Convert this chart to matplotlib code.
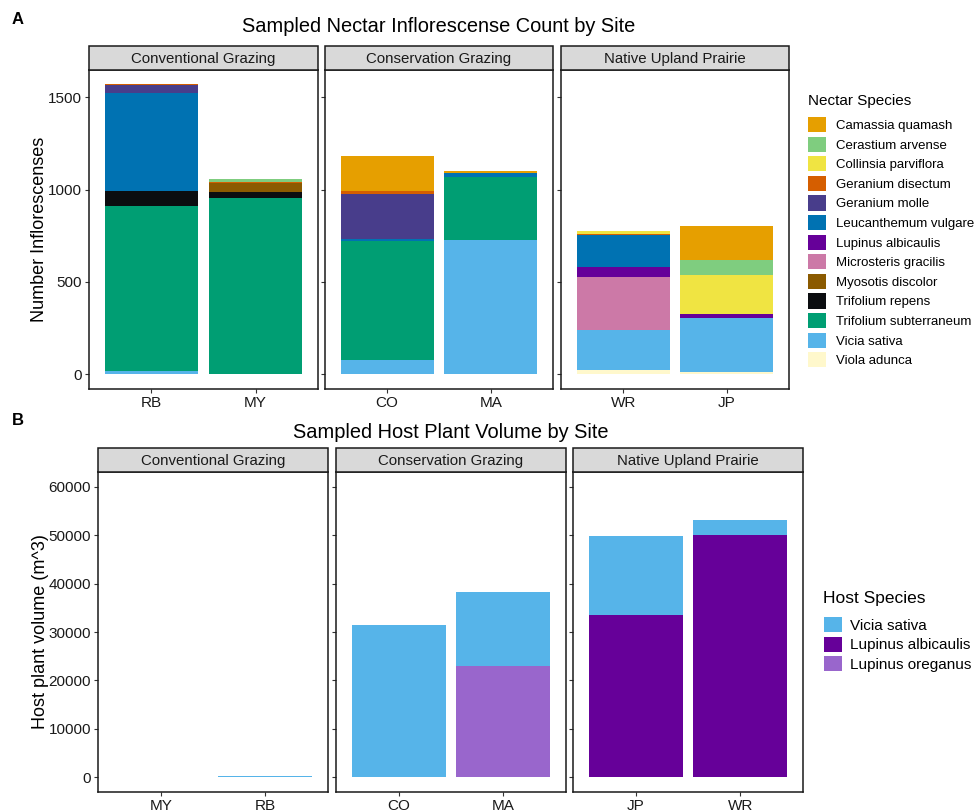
import matplotlib
matplotlib.use("Agg")
import matplotlib.pyplot as plt
from matplotlib.patches import Patch, Rectangle

plt.rcParams['font.family'] = ['Liberation Sans', 'DejaVu Sans']

W, H = 978, 811

# ---- nectar inflorescence counts (panel A) ----
nectar_species = ["Camassia quamash", "Cerastium arvense", "Collinsia parviflora",
                  "Geranium disectum", "Geranium molle", "Leucanthemum vulgare",
                  "Lupinus albicaulis", "Microsteris gracilis", "Myosotis discolor",
                  "Trifolium repens", "Trifolium subterraneum", "Vicia sativa",
                  "Viola adunca"]
nectar_colors = ["#E69F00", "#7FCD7F", "#F0E442", "#D55E00", "#483D8B", "#0072B2",
                 "#660099", "#CC79A7", "#8B5A00", "#0B0D10", "#009E73", "#56B4E9",
                 "#FFF8CC"]
sites_a = ["RB", "MY", "CO", "MA", "WR", "JP"]
# counts per site, in nectar_species order
rb_counts = [0, 0, 0, 4, 41, 530, 0, 0, 0, 83, 894, 18, 0]
my_counts = [0, 15, 0, 5, 0, 0, 0, 0, 47, 34, 954, 0, 0]
co_counts = [194, 0, 0, 11, 246, 9, 0, 0, 0, 0, 648, 76, 0]
ma_counts = [13, 0, 0, 0, 0, 20, 0, 0, 0, 0, 340, 729, 0]
wr_counts = [0, 0, 16, 8, 0, 169, 54, 291, 0, 0, 0, 216, 22]
jp_counts = [186, 83, 208, 0, 0, 0, 22, 0, 0, 0, 0, 292, 14]
nectar_counts = [rb_counts, my_counts, co_counts, ma_counts, wr_counts, jp_counts]

# ---- host plant volume (panel B) ----
host_species = ["Vicia sativa", "Lupinus albicaulis", "Lupinus oreganus"]
host_colors = ["#56B4E9", "#660099", "#9966CC"]
sites_b = ["MY", "RB", "CO", "MA", "JP", "WR"]
vicia_vol = [0, 250, 31500, 15300, 16350, 3000]
lup_alb_vol = [0, 0, 0, 0, 33450, 50000]
lup_ore_vol = [0, 0, 0, 23000, 0, 0]
host_volumes = [vicia_vol, lup_alb_vol, lup_ore_vol]

groups = ["Conventional Grazing", "Conservation Grazing", "Native Upland Prairie"]


def px_axes(fig, x0, y0, x1, y1):
    return fig.add_axes([x0 / W, 1 - y1 / H, (x1 - x0) / W, (y1 - y0) / H])


def style_panel(ax, strip, label):
    for s in ax.spines.values():
        s.set_color("#1a1a1a")
        s.set_linewidth(1.1)
    ax.tick_params(axis="both", colors="#333333", labelcolor="#1a1a1a",
                   length=3, width=0.8, labelsize=11, pad=2)
    pos = ax.get_position()
    fig = ax.figure
    fig.patches.append(Rectangle((pos.x0, pos.y1), pos.width, strip / H,
                                 transform=fig.transFigure, facecolor="#D9D9D9",
                                 edgecolor="#1a1a1a", linewidth=1.1))
    fig.text(pos.x0 + pos.width / 2, pos.y1 + (strip / 2 - 1) / H, label,
             ha="center", va="center", fontsize=10.8, color="#1a1a1a")


fig = plt.figure(figsize=(W / 100, H / 100), dpi=100)

# panel A
a_x = [(89, 318), (325, 553), (561, 789)]
for g in range(3):
    ax = px_axes(fig, a_x[g][0], 70, a_x[g][1], 389)
    idx = [2 * g, 2 * g + 1]
    for j, i in enumerate(idx):
        bottom = 0
        for k in reversed(range(len(nectar_species))):
            v = nectar_counts[i][k]
            if v > 0:
                ax.bar(j + 1, v, bottom=bottom, width=0.9, color=nectar_colors[k], linewidth=0)
                bottom += v
    ax.set_xlim(0.4, 2.6)
    ax.set_ylim(-80, 1648)
    ax.set_xticks([1, 2])
    ax.set_xticklabels([sites_a[i] for i in idx])
    ax.set_yticks([0, 500, 1000, 1500])
    if g == 0:
        ax.set_ylabel("Number Inflorescenses", fontsize=13, labelpad=0)
    else:
        ax.set_yticklabels([])
    style_panel(ax, 24, groups[g])

fig.text(439 / W, 1 - 27 / H, "Sampled Nectar Inflorescense Count by Site",
         ha="center", va="center", fontsize=14.4)

# panel B
b_x = [(98, 328), (336, 566), (573, 803)]
for g in range(3):
    ax = px_axes(fig, b_x[g][0], 472, b_x[g][1], 792)
    idx = [2 * g, 2 * g + 1]
    for j, i in enumerate(idx):
        bottom = 0
        for k in reversed(range(len(host_species))):
            v = host_volumes[k][i]
            if v > 0:
                ax.bar(j + 1, v, bottom=bottom, width=0.9, color=host_colors[k], linewidth=0)
                bottom += v
    ax.set_xlim(0.4, 2.6)
    ax.set_ylim(-3000, 63000)
    ax.set_xticks([1, 2])
    ax.set_xticklabels([sites_b[i] for i in idx])
    ax.set_yticks(range(0, 60001, 10000))
    if g == 0:
        ax.set_ylabel("Host plant volume (m^3)", fontsize=13, labelpad=0)
    else:
        ax.set_yticklabels([])
    style_panel(ax, 24, groups[g])

fig.text(451 / W, 1 - 432 / H, "Sampled Host Plant Volume by Site",
         ha="center", va="center", fontsize=14.4)

# panel letters
fig.text(12 / W, 1 - 20 / H, "A", fontsize=12, fontweight="bold", va="center")
fig.text(12 / W, 1 - 420 / H, "B", fontsize=12, fontweight="bold", va="center")

# legends
fig.text(808 / W, 1 - 101 / H, "Nectar Species", fontsize=11, va="center")
h_a = [Patch(facecolor=c, edgecolor="none") for c in nectar_colors]
fig.legend(h_a, nectar_species, loc="upper left",
           bbox_to_anchor=(808 / W, 1 - 117 / H), frameon=False, fontsize=9.5,
           handlelength=1.4, handleheight=1.4, labelspacing=0.33,
           handletextpad=0.7, borderaxespad=0, borderpad=0)

fig.text(823 / W, 1 - 598 / H, "Host Species", fontsize=12.5, va="center")
h_b = [Patch(facecolor=c, edgecolor="none") for c in host_colors]
fig.legend(h_b, host_species, loc="upper left",
           bbox_to_anchor=(824 / W, 1 - 617 / H), frameon=False, fontsize=11,
           handlelength=1.15, handleheight=1.15, labelspacing=0.25,
           handletextpad=0.55, borderaxespad=0, borderpad=0)

fig.savefig("out.png", dpi=100)
